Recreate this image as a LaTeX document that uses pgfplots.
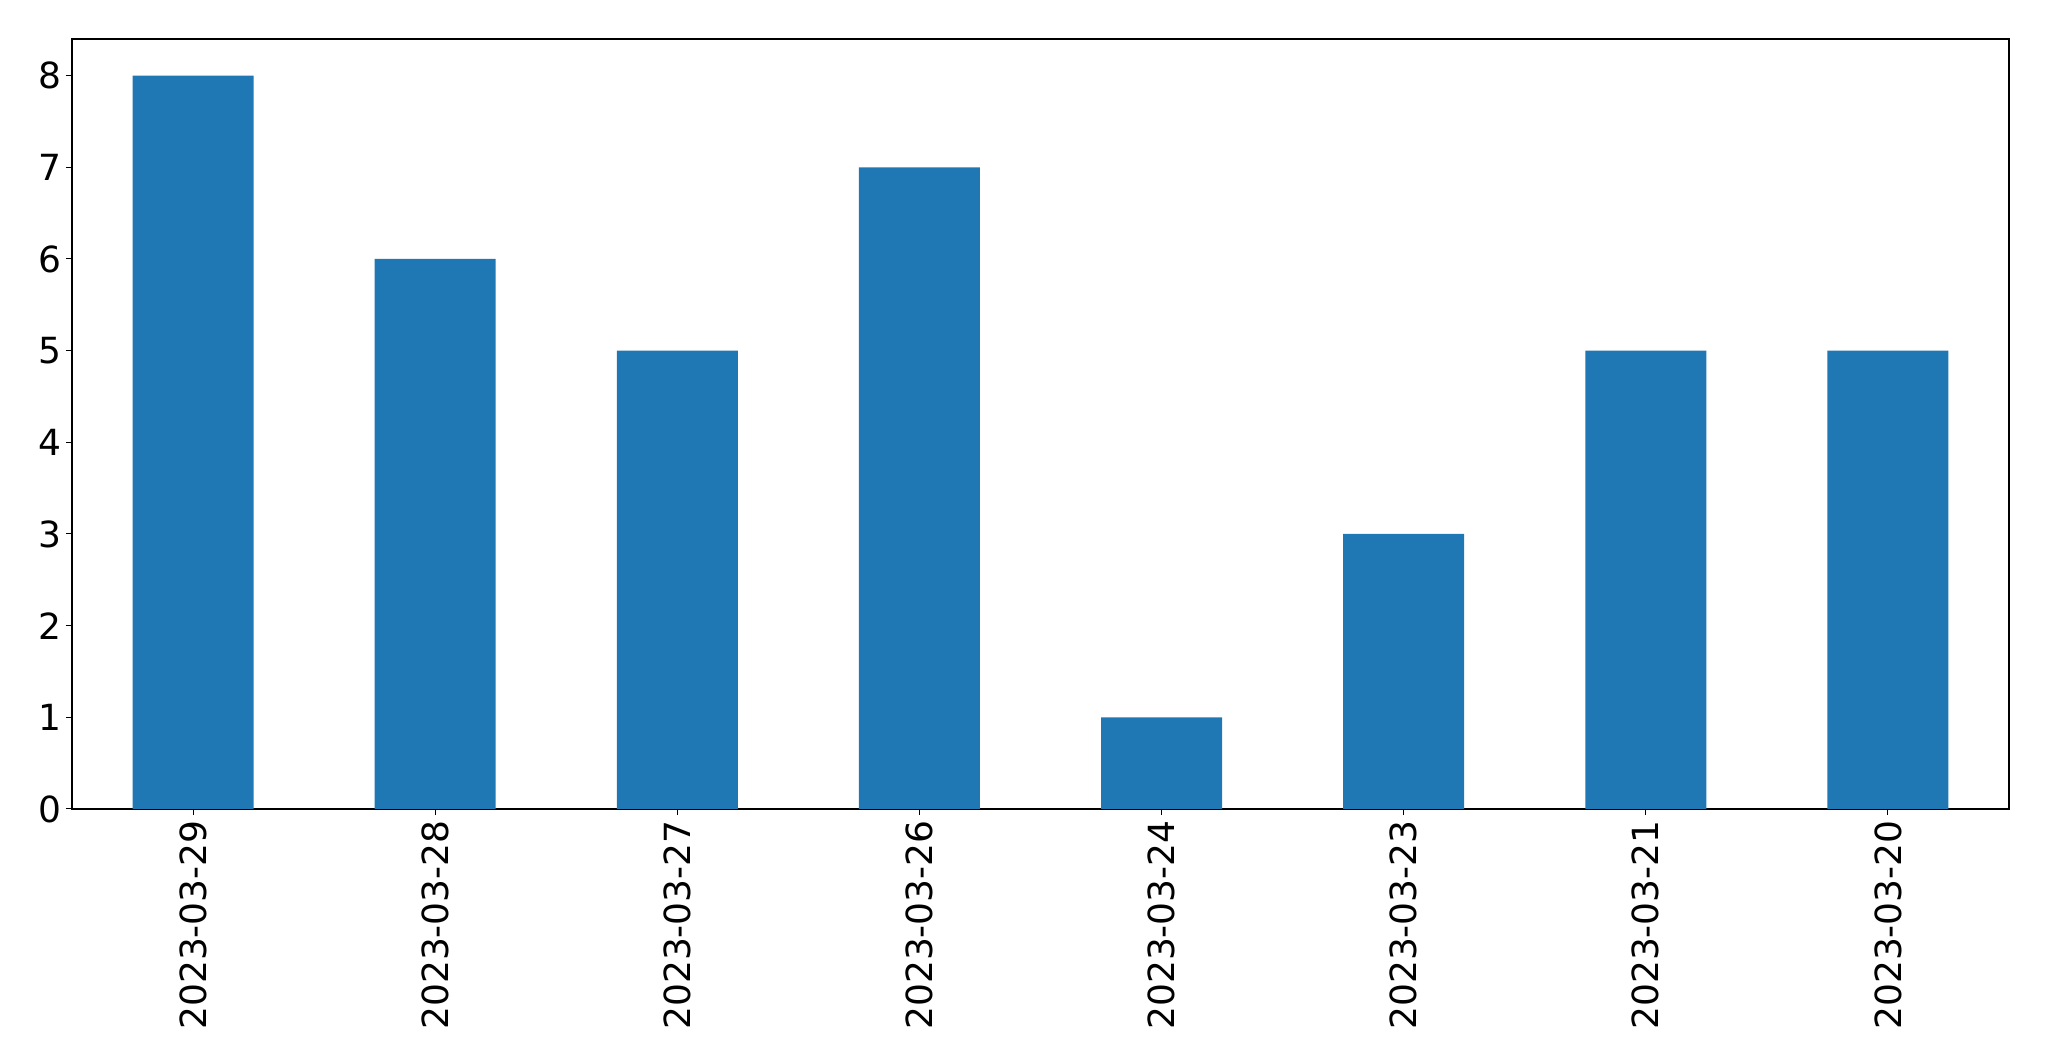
\documentclass[border=0pt]{standalone}
\usepackage{fontspec}
\setmainfont{DejaVu Sans}
\usepackage{pgfplots}
\pgfplotsset{compat=1.18}
\definecolor{mplblue}{HTML}{1F77B4}
\begin{document}
\begin{tikzpicture}
\begin{axis}[
  scale only axis,
  width=968.5pt, height=385pt,
  xmin=-0.5, xmax=7.5,
  ymin=0, ymax=8.4,
  xtick={0,1,2,3,4,5,6,7},
  xticklabels={2023-03-29,2023-03-28,2023-03-27,2023-03-26,2023-03-24,2023-03-23,2023-03-21,2023-03-20},
  ytick={0,1,2,3,4,5,6,7,8},
  tick align=outside,
  tick pos=left,
  major tick length=3pt,
  tick style={black, line width=0.5pt},
  axis line style={line width=0.6pt},
  /pgf/number format/assume math mode=true,
  ticklabel style={font=\fontsize{18}{21.5}\selectfont},
  xticklabel style={rotate=90, anchor=east, inner sep=2.5pt},
  yticklabel style={inner sep=2pt},
]
\addplot[ybar, bar width=0.5, fill=mplblue, draw=none, bar shift=0pt] coordinates {
  (0,8) (1,6) (2,5) (3,7) (4,1) (5,3) (6,5) (7,5)
};
\end{axis}
\pgfresetboundingbox
\path[use as bounding box] ([shift={(-36pt,-126pt)}]current axis.south west) rectangle ([shift={(20pt,19.5pt)}]current axis.north east);
\end{tikzpicture}
\end{document}
